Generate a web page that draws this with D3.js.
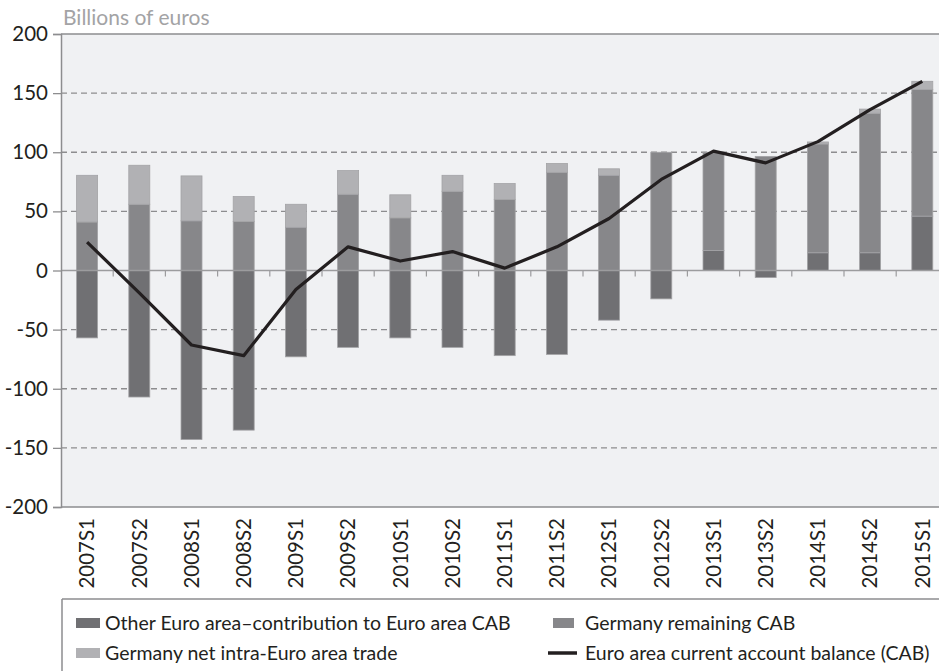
<!DOCTYPE html>
<html>
<head>
<meta charset="utf-8">
<script src="https://cdnjs.cloudflare.com/ajax/libs/d3/7.8.5/d3.min.js"></script>
<style>
  body { margin: 0; background: #fff; }
  svg { display: block; font-family: Lato, "Open Sans", sans-serif; }
</style>
</head>
<body>
<div class="svg-canvas"></div>
<script>
// Data (billions of euros)
var periods = ["2007S1","2007S2","2008S1","2008S2","2009S1","2009S2","2010S1","2010S2",
               "2011S1","2011S2","2012S1","2012S2","2013S1","2013S2","2014S1","2014S2","2015S1"];
var otherEuro = [-57, -107, -143, -135, -73, -65, -57, -65, -72, -71, -42, -24, 17, -6, 15, 15, 46];
var germanyRemaining = [41, 56, 42, 41.5, 36.5, 64.5, 44.5, 67, 60, 83, 80.5, 100, 83, 96.5, 92, 118, 107];
var germanyIntra = [39.5, 33, 38, 21, 19.5, 20, 19.5, 13.5, 13.5, 7.5, 5.5, 0, 0, 0, 1.7, 3.5, 7];
var euroCab = [24, -19, -63, -72, -16, 20, 8, 16, 2, 20, 44, 77, 101, 91, 109, 136, 160];
var yTicks = [-200, -150, -100, -50, 0, 50, 100, 150, 200];

var legendNames = {
    other: "Other Euro area\u2013contribution to Euro area CAB",
    remaining: "Germany remaining CAB",
    intra: "Germany net intra-Euro area trade",
    cab: "Euro area current account balance (CAB)"
};

var colors = { other: "#707073", remaining: "#87878a", intra: "#b1b1b4" };

var W = 939, H = 671;
var m = { top: 34, left: 61, bottom: 507 };

var svg = d3.select("body").select(".svg-canvas").append("svg")
    .attr("width", W)
    .attr("height", H);

var x = d3.scaleBand()
    .domain(periods)
    .range([m.left, m.left + 17 * 52.2]);

var y = d3.scaleLinear()
    .domain([-200, 200])
    .range([m.bottom, m.top]);

// plot background
svg.append("rect")
    .attr("x", m.left).attr("y", m.top)
    .attr("width", W - m.left).attr("height", m.bottom - m.top)
    .attr("fill", "#f0f1f3");

// dashed grid
svg.selectAll(".grid")
    .data(yTicks.filter(function(d){ return d !== 0 && Math.abs(d) !== 200; }))
    .enter().append("line")
    .attr("x1", m.left).attr("x2", W)
    .attr("y1", function(d){ return y(d); })
    .attr("y2", function(d){ return y(d); })
    .attr("stroke", "#8d8d8f")
    .attr("stroke-width", 1.3)
    .attr("stroke-dasharray", "6,4");

// top and bottom borders
svg.selectAll(".border")
    .data([200, -200])
    .enter().append("line")
    .attr("x1", m.left).attr("x2", W)
    .attr("y1", function(d){ return y(d); })
    .attr("y2", function(d){ return y(d); })
    .attr("stroke", "#8d8d8f")
    .attr("stroke-width", 1.5);

// stacked bars
var table = periods.map(function(p, i){
    return { period: p, other: otherEuro[i], remaining: germanyRemaining[i], intra: germanyIntra[i] };
});
var series = d3.stack()
    .keys(["other", "remaining", "intra"])
    .offset(d3.stackOffsetDiverging)(table);

var barW = 21;
svg.selectAll(".series")
    .data(series)
    .enter().append("g")
    .attr("fill", function(d){ return colors[d.key]; })
    .selectAll("rect")
    .data(function(d){ return d.filter(function(v){ return v[1] - v[0] !== 0; }); })
    .enter().append("rect")
    .attr("x", function(d){ return x(d.data.period) + x.bandwidth() / 2 - barW / 2; })
    .attr("y", function(d){ return y(d[1]); })
    .attr("width", barW)
    .attr("height", function(d){ return y(d[0]) - y(d[1]); })
    .attr("stroke", "#a3a3a6")
    .attr("stroke-width", 0.8);

// zero line + ticks between categories
svg.append("line")
    .attr("x1", m.left).attr("x2", W)
    .attr("y1", y(0)).attr("y2", y(0))
    .attr("stroke", "#9c9c9e")
    .attr("stroke-width", 1.5);

svg.selectAll(".xtick")
    .data(periods.slice(1))
    .enter().append("line")
    .attr("x1", function(d){ return x(d); })
    .attr("x2", function(d){ return x(d); })
    .attr("y1", y(0)).attr("y2", y(0) + 6)
    .attr("stroke", "#9c9c9e")
    .attr("stroke-width", 1.2);

// y axis
var yAxis = svg.append("g")
    .attr("transform", "translate(" + m.left + ",0)")
    .call(d3.axisLeft(y).tickValues(yTicks).tickSize(8).tickPadding(5)
        .tickFormat(function(d){ return String(d); }));
yAxis.select(".domain").attr("stroke", "#8d8d8f").attr("stroke-width", 1.5);
yAxis.selectAll(".tick line").attr("stroke", "#8d8d8f").attr("stroke-width", 1.3);
yAxis.selectAll(".tick text")
    .attr("fill", "#231f20")
    .style("font-size", "20.5px")
    .style("font-family", "Lato, sans-serif");

// x labels, rotated
svg.selectAll(".xlabel")
    .data(periods)
    .enter().append("text")
    .attr("transform", function(d){
        return "translate(" + (x(d) + x.bandwidth() / 2) + ",518) rotate(-90)";
    })
    .attr("text-anchor", "end")
    .attr("dy", "0.36em")
    .attr("fill", "#231f20")
    .style("font-size", "20.5px")
    .text(function(d){ return d; });

// CAB line
var line = d3.line()
    .x(function(d, i){ return x(periods[i]) + x.bandwidth() / 2; })
    .y(function(d){ return y(d); });

svg.append("path")
    .datum(euroCab)
    .attr("d", line)
    .attr("fill", "none")
    .attr("stroke", "#231f20")
    .attr("stroke-width", 3.2)
    .attr("stroke-linejoin", "round");

// unit label
svg.append("text")
    .attr("x", 63).attr("y", 25)
    .attr("fill", "#a3a3a5")
    .style("font-size", "21px")
    .text("Billions of euros");

// legend
svg.append("line")
    .attr("x1", 62).attr("x2", W).attr("y1", 599).attr("y2", 599)
    .attr("stroke", "#8d8d8f").attr("stroke-width", 1.5);
svg.append("line")
    .attr("x1", 62).attr("x2", 62).attr("y1", 599).attr("y2", H)
    .attr("stroke", "#8d8d8f").attr("stroke-width", 1.5);

var legendItems = [
    { key: "other", lx: 76, ly: 623 },
    { key: "intra", lx: 76, ly: 653 },
    { key: "remaining", lx: 553, ly: 623 },
    { key: "cab", lx: 548, ly: 653 }
];
var lg = svg.selectAll(".legend")
    .data(legendItems)
    .enter().append("g")
    .attr("transform", function(d){ return "translate(" + d.lx + "," + d.ly + ")"; });

lg.filter(function(d){ return d.key !== "cab"; })
    .append("rect")
    .attr("x", 0).attr("y", -5)
    .attr("width", function(d){ return d.key === "remaining" ? 21 : 24; })
    .attr("height", 10)
    .attr("fill", function(d){ return colors[d.key]; });

lg.filter(function(d){ return d.key === "cab"; })
    .append("line")
    .attr("x1", 0).attr("x2", 29).attr("y1", 0).attr("y2", 0)
    .attr("stroke", "#231f20").attr("stroke-width", 3.5);

lg.append("text")
    .attr("x", function(d){ return d.key === "cab" ? 37 : (d.key === "remaining" ? 32 : 29); })
    .attr("y", 0)
    .attr("dy", "0.36em")
    .attr("fill", "#231f20")
    .style("font-size", "19.5px")
    .text(function(d){ return legendNames[d.key]; });
</script>
</body>
</html>
